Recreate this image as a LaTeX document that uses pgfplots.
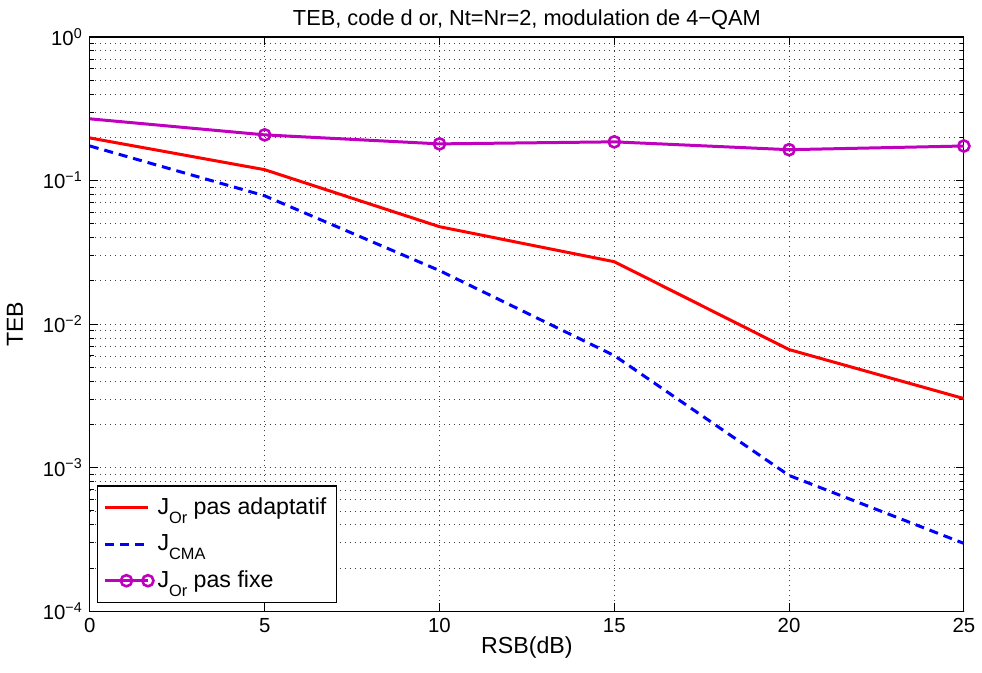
\documentclass[border=0pt]{standalone}
\usepackage{pgfplots}
\pgfplotsset{compat=1.18}
\usepackage{fontspec}
\setmainfont{Liberation Sans}
\definecolor{mmag}{RGB}{191,0,191}
\newcommand{\sub}[1]{\raisebox{-0.75ex}{\fontsize{8.2}{9}\selectfont #1}}
\pgfplotsset{
  my line legend/.style={legend image code/.code={\draw[##1] (0pt,0pt) -- (21.5pt,0pt);}},
  my onemark legend/.style={legend image code/.code={\draw[mark repeat=2, mark phase=2, ##1] plot coordinates {(0pt,0pt) (10.75pt,0pt) (21.5pt,0pt)};}},
}
\begin{document}
\fontsize{10.2}{12}\selectfont
\begin{tikzpicture}
\begin{axis}[
  scale only axis,
  width=437.5pt, height=287.5pt,
  xmin=0, xmax=25,
  ymode=log, ymin=1e-4, ymax=1,
  xtick={0,5,10,15,20,25},
  xticklabels={0,5,10,15,20,25},
  ytick={1e-4,1e-3,1e-2,1e-1,1},
  yticklabels={10\textsuperscript{−4},10\textsuperscript{−3},10\textsuperscript{−2},10\textsuperscript{−1},10\textsuperscript{0}},
  tick label style={font=\fontsize{10.2}{12}\selectfont},
  tick align=inside,
  tick pos=both,
  major tick length=4pt, minor tick length=2pt,
  tick style={black, line width=0.5pt},
  axis line style={black, line width=0.6pt},
  grid=both,
  major grid style={black!75, line width=0.4pt, dash pattern=on 0.5pt off 2pt},
  minor grid style={black!75, line width=0.4pt, dash pattern=on 0.5pt off 2pt},
  minor x tick num=0,
  title={TEB, code d or, Nt=Nr=2, modulation de 4−QAM},
  title style={font=\fontsize{10.9}{12}\selectfont, yshift=-6pt},
  xlabel={RSB(dB)},
  ylabel={TEB},
  label style={font=\fontsize{11.6}{13}\selectfont},
  xlabel style={yshift=5pt},
  ylabel style={yshift=3pt},
  legend cell align=left,
  legend style={at={(rel axis cs:0.008,0.014)}, anchor=south west,
    draw=black, line width=0.6pt, row sep=4.5pt, inner xsep=3pt, inner ysep=4pt,
    font=\fontsize{11.6}{13}\selectfont},
  my line legend,
]
\addplot[red, line width=1.5pt] coordinates {
  (0,0.198) (5,0.119) (10,0.0477) (15,0.0272) (20,0.00665) (25,0.00303)
};
\addlegendentry{J\sub{Or} pas adaptatif}
\addplot[blue, line width=1.5pt, dash pattern=on 4.5pt off 3pt] coordinates {
  (0,0.174) (5,0.0783) (10,0.0236) (15,0.00604) (20,0.000883) (25,0.000297)
};
\addlegendentry{J\sub{CMA}}
\addplot[mmag, line width=1.5pt, mark=o, mark size=2.8pt, mark indices={2,3,4,5,6},
  mark options={line width=1.3pt}, my onemark legend] coordinates {
  (0,0.269) (5,0.208) (10,0.180) (15,0.186) (20,0.164) (25,0.174)
};
\addlegendentry{J\sub{Or} pas fixe}
\end{axis}
\path (current axis.south west) ++(-45pt,-30.5pt) rectangle ([xshift=8.5pt,yshift=18.5pt]current axis.north east);
\end{tikzpicture}
\end{document}
